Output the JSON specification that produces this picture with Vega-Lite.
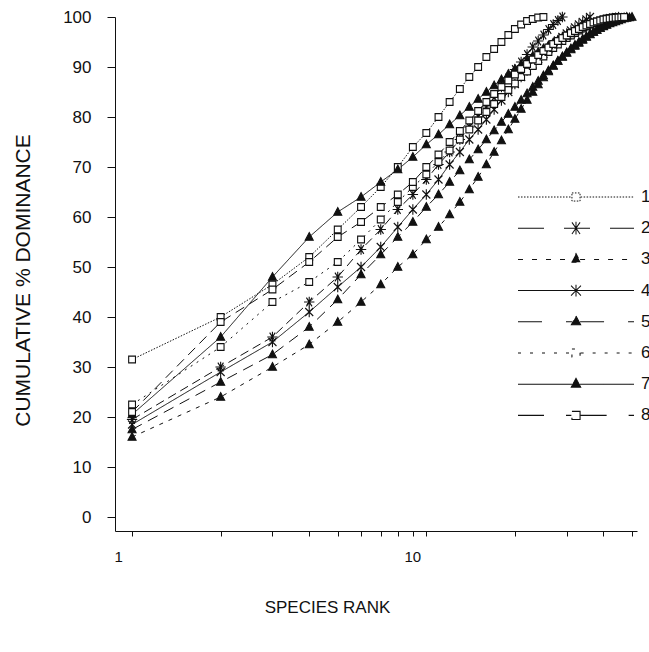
{
  "$schema": "https://vega.github.io/schema/vega-lite/v6.json",
  "width": 522,
  "height": 514,
  "autosize": "none",
  "padding": {"left": 115, "top": 17, "right": 12, "bottom": 121},
  "background": "white",
  "config": {
    "view": {"stroke": null},
    "font": "Liberation Sans",
    "axis": {"domainColor": "#111", "tickColor": "#111", "labelColor": "#111", "titleColor": "#111", "grid": false, "labelFont": "Liberation Sans", "titleFont": "Liberation Sans", "titleFontWeight": "normal"}
  },
  "data": {"values": [
    {"s":"1","r":1,"v":31.5},{"s":"1","r":2,"v":40},{"s":"1","r":3,"v":46.5},{"s":"1","r":4,"v":52},{"s":"1","r":5,"v":57.5},{"s":"1","r":6,"v":62},{"s":"1","r":7,"v":66},{"s":"1","r":8,"v":70},{"s":"1","r":9,"v":74},{"s":"1","r":10,"v":76.8},{"s":"1","r":11,"v":80},{"s":"1","r":12,"v":83},{"s":"1","r":13,"v":85.6},{"s":"1","r":14,"v":88},{"s":"1","r":15,"v":90},{"s":"1","r":16,"v":92},{"s":"1","r":17,"v":93.6},{"s":"1","r":18,"v":95},{"s":"1","r":19,"v":96.4},{"s":"1","r":20,"v":97.6},{"s":"1","r":21,"v":98.5},{"s":"1","r":22,"v":99.2},{"s":"1","r":23,"v":99.6},{"s":"1","r":24,"v":99.9},{"s":"1","r":25,"v":100},
    {"s":"2","r":1,"v":19.5},{"s":"2","r":2,"v":30},{"s":"2","r":3,"v":36},{"s":"2","r":4,"v":43},{"s":"2","r":5,"v":48},{"s":"2","r":6,"v":53.5},{"s":"2","r":7,"v":57.5},{"s":"2","r":8,"v":61.5},{"s":"2","r":9,"v":64.5},{"s":"2","r":10,"v":67.5},{"s":"2","r":11,"v":70.5},{"s":"2","r":12,"v":73},{"s":"2","r":13,"v":75.5},{"s":"2","r":14,"v":78},{"s":"2","r":15,"v":80},{"s":"2","r":16,"v":82},{"s":"2","r":17,"v":84},{"s":"2","r":18,"v":86},{"s":"2","r":19,"v":87.8},{"s":"2","r":20,"v":89.5},{"s":"2","r":21,"v":91},{"s":"2","r":22,"v":92.5},{"s":"2","r":23,"v":94},{"s":"2","r":24,"v":95.2},{"s":"2","r":25,"v":96.4},{"s":"2","r":26,"v":97.5},{"s":"2","r":27,"v":98.5},{"s":"2","r":28,"v":99.3},{"s":"2","r":29,"v":100},
    {"s":"3","r":1,"v":16},{"s":"3","r":2,"v":24},{"s":"3","r":3,"v":30},{"s":"3","r":4,"v":34.5},{"s":"3","r":5,"v":39},{"s":"3","r":6,"v":43},{"s":"3","r":7,"v":46.5},{"s":"3","r":8,"v":50},{"s":"3","r":9,"v":52.5},{"s":"3","r":10,"v":55.5},{"s":"3","r":11,"v":58},{"s":"3","r":12,"v":60.5},{"s":"3","r":13,"v":63},{"s":"3","r":14,"v":65.5},{"s":"3","r":15,"v":68},{"s":"3","r":16,"v":70.5},{"s":"3","r":17,"v":73},{"s":"3","r":18,"v":75.3},{"s":"3","r":19,"v":77.5},{"s":"3","r":20,"v":79.6},{"s":"3","r":21,"v":81.6},{"s":"3","r":22,"v":83.4},{"s":"3","r":23,"v":85},{"s":"3","r":24,"v":86.5},{"s":"3","r":25,"v":87.9},{"s":"3","r":26,"v":89.1},{"s":"3","r":27,"v":90.2},{"s":"3","r":28,"v":91.2},{"s":"3","r":29,"v":92.1},{"s":"3","r":30,"v":92.9},{"s":"3","r":31,"v":93.7},{"s":"3","r":32,"v":94.4},{"s":"3","r":33,"v":95},{"s":"3","r":34,"v":95.6},{"s":"3","r":35,"v":96.1},{"s":"3","r":36,"v":96.6},{"s":"3","r":37,"v":97},{"s":"3","r":38,"v":97.4},{"s":"3","r":39,"v":97.8},{"s":"3","r":40,"v":98.1},{"s":"3","r":41,"v":98.4},{"s":"3","r":42,"v":98.7},{"s":"3","r":43,"v":98.9},{"s":"3","r":44,"v":99.1},{"s":"3","r":45,"v":99.3},{"s":"3","r":46,"v":99.5},{"s":"3","r":47,"v":99.7},{"s":"3","r":48,"v":99.8},{"s":"3","r":49,"v":99.9},{"s":"3","r":50,"v":100},
    {"s":"4","r":1,"v":18.5},{"s":"4","r":2,"v":29},{"s":"4","r":3,"v":35},{"s":"4","r":4,"v":41},{"s":"4","r":5,"v":46},{"s":"4","r":6,"v":50},{"s":"4","r":7,"v":54},{"s":"4","r":8,"v":58},{"s":"4","r":9,"v":61.5},{"s":"4","r":10,"v":64.5},{"s":"4","r":11,"v":67.5},{"s":"4","r":12,"v":70.5},{"s":"4","r":13,"v":73},{"s":"4","r":14,"v":75.5},{"s":"4","r":15,"v":77.5},{"s":"4","r":16,"v":79.5},{"s":"4","r":17,"v":81.5},{"s":"4","r":18,"v":83.3},{"s":"4","r":19,"v":85},{"s":"4","r":20,"v":86.6},{"s":"4","r":21,"v":88},{"s":"4","r":22,"v":89.3},{"s":"4","r":23,"v":90.5},{"s":"4","r":24,"v":91.6},{"s":"4","r":25,"v":92.6},{"s":"4","r":26,"v":93.6},{"s":"4","r":27,"v":94.5},{"s":"4","r":28,"v":95.3},{"s":"4","r":29,"v":96},{"s":"4","r":30,"v":96.7},{"s":"4","r":31,"v":97.3},{"s":"4","r":32,"v":97.9},{"s":"4","r":33,"v":98.5},{"s":"4","r":34,"v":99},{"s":"4","r":35,"v":99.5},{"s":"4","r":36,"v":100},
    {"s":"5","r":1,"v":17.5},{"s":"5","r":2,"v":27},{"s":"5","r":3,"v":32.5},{"s":"5","r":4,"v":38},{"s":"5","r":5,"v":43.5},{"s":"5","r":6,"v":48.5},{"s":"5","r":7,"v":52.5},{"s":"5","r":8,"v":56},{"s":"5","r":9,"v":59},{"s":"5","r":10,"v":62},{"s":"5","r":11,"v":64.5},{"s":"5","r":12,"v":67},{"s":"5","r":13,"v":69.3},{"s":"5","r":14,"v":71.5},{"s":"5","r":15,"v":73.5},{"s":"5","r":16,"v":75.5},{"s":"5","r":17,"v":77.3},{"s":"5","r":18,"v":79},{"s":"5","r":19,"v":80.6},{"s":"5","r":20,"v":82},{"s":"5","r":21,"v":83.4},{"s":"5","r":22,"v":84.7},{"s":"5","r":23,"v":86},{"s":"5","r":24,"v":87.2},{"s":"5","r":25,"v":88.3},{"s":"5","r":26,"v":89.3},{"s":"5","r":27,"v":90.3},{"s":"5","r":28,"v":91.2},{"s":"5","r":29,"v":92},{"s":"5","r":30,"v":92.8},{"s":"5","r":31,"v":93.5},{"s":"5","r":32,"v":94.2},{"s":"5","r":33,"v":94.8},{"s":"5","r":34,"v":95.4},{"s":"5","r":35,"v":96},{"s":"5","r":36,"v":96.5},{"s":"5","r":37,"v":97},{"s":"5","r":38,"v":97.4},{"s":"5","r":39,"v":97.8},{"s":"5","r":40,"v":98.2},{"s":"5","r":41,"v":98.5},{"s":"5","r":42,"v":98.8},{"s":"5","r":43,"v":99.1},{"s":"5","r":44,"v":99.4},{"s":"5","r":45,"v":99.6},{"s":"5","r":46,"v":99.8},{"s":"5","r":47,"v":99.9},{"s":"5","r":48,"v":100},
    {"s":"6","r":1,"v":22.5},{"s":"6","r":2,"v":34},{"s":"6","r":3,"v":43},{"s":"6","r":4,"v":47},{"s":"6","r":5,"v":51},{"s":"6","r":6,"v":55.5},{"s":"6","r":7,"v":59.5},{"s":"6","r":8,"v":63},{"s":"6","r":9,"v":66},{"s":"6","r":10,"v":68.5},{"s":"6","r":11,"v":71},{"s":"6","r":12,"v":73.3},{"s":"6","r":13,"v":75.5},{"s":"6","r":14,"v":77.5},{"s":"6","r":15,"v":79.3},{"s":"6","r":16,"v":81},{"s":"6","r":17,"v":82.6},{"s":"6","r":18,"v":84},{"s":"6","r":19,"v":85.4},{"s":"6","r":20,"v":86.7},{"s":"6","r":21,"v":88},{"s":"6","r":22,"v":89.1},{"s":"6","r":23,"v":90.2},{"s":"6","r":24,"v":91.2},{"s":"6","r":25,"v":92.1},{"s":"6","r":26,"v":93},{"s":"6","r":27,"v":93.8},{"s":"6","r":28,"v":94.5},{"s":"6","r":29,"v":95.2},{"s":"6","r":30,"v":95.8},{"s":"6","r":31,"v":96.3},{"s":"6","r":32,"v":96.8},{"s":"6","r":33,"v":97.3},{"s":"6","r":34,"v":97.7},{"s":"6","r":35,"v":98.1},{"s":"6","r":36,"v":98.5},{"s":"6","r":37,"v":98.8},{"s":"6","r":38,"v":99.1},{"s":"6","r":39,"v":99.3},{"s":"6","r":40,"v":99.5},{"s":"6","r":41,"v":99.7},{"s":"6","r":42,"v":99.8},{"s":"6","r":43,"v":99.9},{"s":"6","r":44,"v":100},
    {"s":"7","r":1,"v":20.5},{"s":"7","r":2,"v":36},{"s":"7","r":3,"v":48},{"s":"7","r":4,"v":56},{"s":"7","r":5,"v":61},{"s":"7","r":6,"v":64},{"s":"7","r":7,"v":67},{"s":"7","r":8,"v":69.5},{"s":"7","r":9,"v":72},{"s":"7","r":10,"v":74.5},{"s":"7","r":11,"v":76.5},{"s":"7","r":12,"v":78.5},{"s":"7","r":13,"v":80.3},{"s":"7","r":14,"v":82},{"s":"7","r":15,"v":83.6},{"s":"7","r":16,"v":85},{"s":"7","r":17,"v":86.3},{"s":"7","r":18,"v":87.5},{"s":"7","r":19,"v":88.6},{"s":"7","r":20,"v":89.6},{"s":"7","r":21,"v":90.5},{"s":"7","r":22,"v":91.4},{"s":"7","r":23,"v":92.2},{"s":"7","r":24,"v":93},{"s":"7","r":25,"v":93.7},{"s":"7","r":26,"v":94.3},{"s":"7","r":27,"v":94.9},{"s":"7","r":28,"v":95.4},{"s":"7","r":29,"v":95.9},{"s":"7","r":30,"v":96.3},{"s":"7","r":31,"v":96.7},{"s":"7","r":32,"v":97.1},{"s":"7","r":33,"v":97.5},{"s":"7","r":34,"v":97.9},{"s":"7","r":35,"v":98.2},{"s":"7","r":36,"v":98.5},{"s":"7","r":37,"v":98.8},{"s":"7","r":38,"v":99},{"s":"7","r":39,"v":99.2},{"s":"7","r":40,"v":99.4},{"s":"7","r":41,"v":99.6},{"s":"7","r":42,"v":99.7},{"s":"7","r":43,"v":99.8},{"s":"7","r":44,"v":99.9},{"s":"7","r":45,"v":100},
    {"s":"8","r":1,"v":21},{"s":"8","r":2,"v":39},{"s":"8","r":3,"v":45.5},{"s":"8","r":4,"v":51},{"s":"8","r":5,"v":56},{"s":"8","r":6,"v":59},{"s":"8","r":7,"v":62},{"s":"8","r":8,"v":64.5},{"s":"8","r":9,"v":67},{"s":"8","r":10,"v":70},{"s":"8","r":11,"v":72.5},{"s":"8","r":12,"v":75},{"s":"8","r":13,"v":77.2},{"s":"8","r":14,"v":79.3},{"s":"8","r":15,"v":81.2},{"s":"8","r":16,"v":83},{"s":"8","r":17,"v":84.6},{"s":"8","r":18,"v":86},{"s":"8","r":19,"v":87.3},{"s":"8","r":20,"v":88.5},{"s":"8","r":21,"v":89.6},{"s":"8","r":22,"v":90.6},{"s":"8","r":23,"v":91.5},{"s":"8","r":24,"v":92.4},{"s":"8","r":25,"v":93.2},{"s":"8","r":26,"v":93.9},{"s":"8","r":27,"v":94.6},{"s":"8","r":28,"v":95.2},{"s":"8","r":29,"v":95.8},{"s":"8","r":30,"v":96.3},{"s":"8","r":31,"v":96.8},{"s":"8","r":32,"v":97.2},{"s":"8","r":33,"v":97.6},{"s":"8","r":34,"v":98},{"s":"8","r":35,"v":98.3},{"s":"8","r":36,"v":98.6},{"s":"8","r":37,"v":98.9},{"s":"8","r":38,"v":99.1},{"s":"8","r":39,"v":99.3},{"s":"8","r":40,"v":99.5},{"s":"8","r":41,"v":99.6},{"s":"8","r":42,"v":99.7},{"s":"8","r":43,"v":99.8},{"s":"8","r":44,"v":99.85},{"s":"8","r":45,"v":99.9},{"s":"8","r":46,"v":99.95},{"s":"8","r":47,"v":100}
  ]},
  "resolve": {"scale": {"shape": "independent", "strokeDash": "independent", "fill": "independent", "strokeWidth": "independent"}},
  "layer": [
    {
      "mark": {"type": "line", "stroke": "#111", "clip": false},
      "encoding": {
        "x": {"field": "r", "type": "quantitative", "scale": {"type": "log", "domain": [0.875, 52], "nice": false},
          "axis": {"values": [1,2,3,4,5,6,7,8,9,10,20,30,40,50], "labelExpr": "datum.value == 1 ? '1' : datum.value == 10 ? '10' : ''", "title": "SPECIES RANK", "tickSize": 5, "labelPadding": 13, "labelFontSize": 15, "labelOffset": -14, "titleFontSize": 17, "titleX": 212, "titleY": 76, "titleAlign": "center", "titleBaseline": "middle", "labelFlush": false}},
        "y": {"field": "v", "type": "quantitative", "scale": {"domain": [-2.8, 100], "nice": false, "zero": false},
          "axis": {"values": [0,10,20,30,40,50,60,70,80,90,100], "title": "CUMULATIVE % DOMINANCE", "tickSize": 8, "labelPadding": 16, "labelFontSize": 17, "titleFontSize": 21, "titleX": -92, "titleY": 263, "titleAlign": "center", "titleBaseline": "middle", "titleAngle": 270}},
        "strokeDash": {"field": "s", "type": "nominal", "legend": null,
          "scale": {"domain": ["1","2","3","4","5","6","7","8"], "range": [[1.5,1.5],[9,5],[4,6],[1,0],[11,7],[2,5],[1,0],[10,6]]}},
        "strokeWidth": {"field": "s", "type": "ordinal", "legend": null,
          "scale": {"domain": ["1","2","3","4","5","6","7","8"], "range": [1,1,1,0.9,1,1,1.9,1]}},
        "order": {"field": "r", "type": "quantitative"}
      }
    },
    {
      "mark": {"type": "point", "stroke": "#111", "strokeWidth": 1.1, "size": 64, "opacity": 1, "clip": false},
      "encoding": {
        "x": {"field": "r", "type": "quantitative"},
        "y": {"field": "v", "type": "quantitative"},
        "shape": {"field": "s", "type": "nominal", "legend": null,
          "scale": {"domain": ["1","2","3","4","5","6","7","8"], "range": [
            "M-0.85,-0.85L0.85,-0.85L0.85,0.85L-0.85,0.85Z",
            "M-1.3,0L1.3,0M-0.7,-1.1L0.7,1.1M-0.7,1.1L0.7,-1.1M0,-1.3L0,1.3",
            "M0,-1.1L1,0.8L-1,0.8Z",
            "M-1,-1L1,1M-1,1L1,-1M0,-1.3L0,1.3",
            "M0,-1.1L1,0.8L-1,0.8Z",
            "M-0.85,-0.85L0.85,-0.85L0.85,0.85L-0.85,0.85Z",
            "M0,-1.1L1,0.8L-1,0.8Z",
            "M-0.85,-0.85L0.85,-0.85L0.85,0.85L-0.85,0.85Z"]}},
        "fill": {"field": "s", "type": "nominal", "legend": null,
          "scale": {"domain": ["1","2","3","4","5","6","7","8"], "range": ["white","#111","#111","#111","#111","white","#111","white"]}}
      }
    },
    {
      "transform": [{"filter": "datum.r < 0"}],
      "mark": {"type": "point", "stroke": "#111", "strokeWidth": 1.1, "opacity": 1},
      "encoding": {
        "shape": {"field": "s", "type": "nominal",
          "scale": {"domain": ["1","2","3","4","5","6","7","8"], "range": [
            "M-1,0L-0.08,0M0.08,0L1,0M-0.07,-0.07L0.07,-0.07L0.07,0.07L-0.07,0.07Z",
            "M-1,0L1,0M-0.07,-0.1L0.07,0.1M-0.07,0.1L0.07,-0.1M0,-0.11L0,0.11",
            "M-1,0L-0.07,0M0.07,0L1,0M0,-0.1L0.08,0.05L-0.08,0.05Z",
            "M-1,0L1,0M-0.085,-0.085L0.085,0.085M-0.085,0.085L0.085,-0.085M0,-0.1L0,0.1",
            "M-1,0L-0.07,0M0.07,0L1,0M0,-0.1L0.08,0.05L-0.08,0.05Z",
            "M-1,0L-0.08,0M0.08,0L1,0M-0.07,-0.07L0.07,-0.07L0.07,0.07L-0.07,0.07Z",
            "M-1,0L-0.07,0M0.07,0L1,0M0,-0.1L0.08,0.05L-0.08,0.05Z",
            "M-1,0L-0.08,0M0.08,0L1,0M-0.07,-0.07L0.07,-0.07L0.07,0.07L-0.07,0.07Z"]},
          "legend": {"title": null, "orient": "none", "legendX": 402, "legendY": 170, "padding": 0, "offset": 0, "symbolSize": 13456, "clipHeight": 20, "rowPadding": 11.2, "labelOffset": 6, "labelFontSize": 17, "labelFont": "Liberation Sans", "labelColor": "#111", "symbolStrokeWidth": 1.1, "symbolOffset": 0, "labelLimit": 40}},
        "strokeDash": {"field": "s", "type": "nominal",
          "scale": {"domain": ["1","2","3","4","5","6","7","8"], "range": [[1.5,1.5],[26,20],[5,9],[1,0],[24,24],[3,9],[1,0],[26,22]]},
          "legend": {"title": null, "orient": "none", "legendX": 402, "legendY": 170, "padding": 0, "offset": 0, "symbolSize": 13456, "clipHeight": 20, "rowPadding": 11.2, "labelOffset": 6, "labelFontSize": 17, "labelFont": "Liberation Sans", "labelColor": "#111", "symbolStrokeWidth": 1.1, "symbolOffset": 0, "labelLimit": 40}},
        "strokeWidth": {"field": "s", "type": "ordinal",
          "scale": {"domain": ["1","2","3","4","5","6","7","8"], "range": [1,1.1,1.1,1,1.1,1.1,2,1.1]},
          "legend": {"title": null, "orient": "none", "legendX": 402, "legendY": 170, "padding": 0, "offset": 0, "symbolSize": 13456, "clipHeight": 20, "rowPadding": 11.2, "labelOffset": 6, "labelFontSize": 17, "labelFont": "Liberation Sans", "labelColor": "#111", "symbolStrokeWidth": 1.1, "symbolOffset": 0, "labelLimit": 40}},
        "fill": {"field": "s", "type": "nominal",
          "scale": {"domain": ["1","2","3","4","5","6","7","8"], "range": ["white","#111","#111","#111","#111","white","#111","white"]},
          "legend": {"title": null, "orient": "none", "legendX": 402, "legendY": 170, "padding": 0, "offset": 0, "symbolSize": 13456, "clipHeight": 20, "rowPadding": 11.2, "labelOffset": 6, "labelFontSize": 17, "labelFont": "Liberation Sans", "labelColor": "#111", "symbolStrokeWidth": 1.1, "symbolOffset": 0, "labelLimit": 40}}
      }
    }
  ]
}
